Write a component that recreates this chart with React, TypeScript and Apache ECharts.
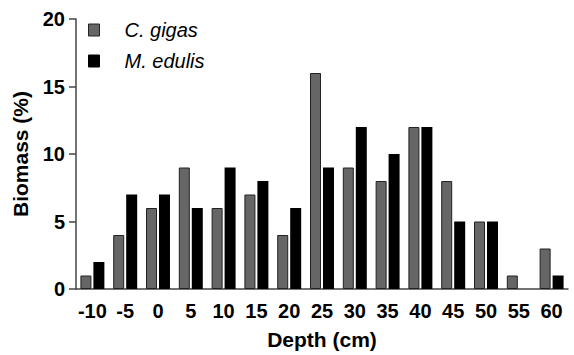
import React, { useEffect, useRef } from "react";
import * as echarts from "echarts";

const depths = ["-10", "-5", "0", "5", "10", "15", "20", "25", "30", "35", "40", "45", "50", "55", "60"];
const gigas = [1, 4, 6, 9, 6, 7, 4, 16, 9, 8, 12, 8, 5, 1, 3];
const edulis = [2, 7, 7, 6, 9, 8, 6, 9, 12, 10, 12, 5, 5, 0, 1];
const yTicks = { min: 0, max: 20, interval: 5 };

export default function App() {
  const ref = useRef<HTMLDivElement>(null);
  useEffect(() => {
    const chart = echarts.init(ref.current!, null, { renderer: "svg" });
    const font = "'Liberation Sans', Arial, Helvetica, sans-serif";
    chart.setOption({
      animation: false,
      textStyle: { fontFamily: font },
      grid: { left: 76, right: 6, top: 19, bottom: 61 },
      legend: {
        left: 88,
        top: 20,
        padding: 0,
        orient: "vertical",
        itemWidth: 11,
        itemHeight: 12,
        itemGap: 11,
        icon: "rect",
        textStyle: {
          fontFamily: font,
          fontSize: 20,
          fontStyle: "italic",
          color: "#000",
          padding: [0, 0, 0, 20],
        },
        data: [
          { name: "C. gigas", itemStyle: { color: "#666666", borderColor: "#222", borderWidth: 1 } },
          { name: "M. edulis", itemStyle: { color: "#000", borderColor: "#000", borderWidth: 1 } },
        ],
      },
      xAxis: {
        type: "category",
        data: depths,
        name: "Depth (cm)",
        nameLocation: "middle",
        nameGap: 40,
        nameTextStyle: { fontFamily: font, fontSize: 21, fontWeight: "bold", color: "#000" },
        axisLine: { lineStyle: { color: "#444", width: 1.5 } },
        axisTick: { alignWithLabel: true, length: 6, lineStyle: { color: "#444", width: 1.5 } },
        axisLabel: { interval: 0, fontFamily: font, fontSize: 20, fontWeight: "bold", color: "#000", margin: 12 },
      },
      yAxis: {
        type: "value",
        min: yTicks.min,
        max: yTicks.max,
        interval: yTicks.interval,
        name: "Biomass (%)",
        nameLocation: "middle",
        nameGap: 45,
        nameTextStyle: { fontFamily: font, fontSize: 21, fontWeight: "bold", color: "#000" },
        splitLine: { show: false },
        axisLine: { show: true, lineStyle: { color: "#444", width: 1.5 } },
        axisTick: { show: true, length: 7, lineStyle: { color: "#444", width: 1.5 } },
        axisLabel: { fontFamily: font, fontSize: 20, fontWeight: "bold", color: "#000", margin: 11 },
      },
      series: [
        {
          name: "C. gigas",
          type: "bar",
          data: gigas,
          barWidth: 11,
          barGap: "18%",
          itemStyle: { color: "#666666", borderColor: "#222", borderWidth: 1 },
        },
        {
          name: "M. edulis",
          type: "bar",
          data: edulis,
          barWidth: 11,
          itemStyle: { color: "#000", borderWidth: 0 },
        },
      ],
    });
    return () => chart.dispose();
  }, []);
  return <div ref={ref} style={{ width: 574, height: 355, position: "absolute", left: 0, top: 0 }} />;
}
